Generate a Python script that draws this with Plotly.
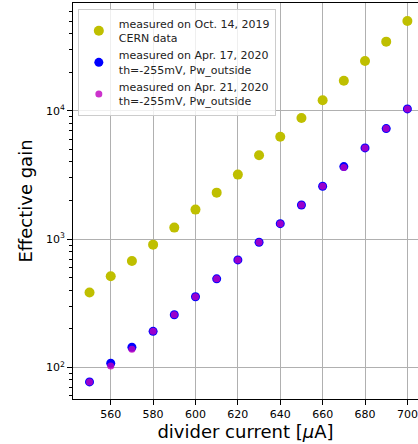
import plotly.graph_objects as go

# divider current [uA]
current = [550, 560, 570, 580, 590, 600, 610, 620, 630, 640, 650, 660, 670, 680, 690, 700]

gain_cern_2019 = [383, 514, 676, 906, 1230, 1700, 2305, 3186, 4510, 6300, 8820,
                  12110, 17220, 24550, 34730, 50350]
gain_apr17_2020 = [77, 107.6, 143.5, 191, 257, 355, 490, 689, 946, 1321, 1848,
                   2587, 3680, 5146, 7280, 10370]
gain_apr21_2020 = [77, 102.6, 138.4, 191, 257, 355, 490, 689, 946, 1321, 1848,
                   2587, 3620, 5146, 7280, 10370]

names = [
    "measured on Oct. 14, 2019<br>CERN data",
    "measured on Apr. 17, 2020<br>th=-255mV, Pw_outside",
    "measured on Apr. 21, 2020<br>th=-255mV, Pw_outside",
]

ytick_vals = [100, 1000, 10000]
ytick_text = ["10<sup>2</sup>", "10<sup>3</sup>", "10<sup>4</sup>"]
minor_vals = [m * 10 ** e for e in (1, 2, 3, 4) for m in range(2, 10)]

FONT = "DejaVu Sans"

fig = go.Figure()
fig.add_trace(go.Scatter(x=current, y=gain_cern_2019, mode="markers", name=names[0],
                         marker=dict(color="#bfbf00", size=10)))
fig.add_trace(go.Scatter(x=current, y=gain_apr17_2020, mode="markers", name=names[1],
                         marker=dict(color="#0000ff", size=9)))
fig.add_trace(go.Scatter(x=current, y=gain_apr21_2020, mode="markers", name=names[2],
                         marker=dict(color="rgba(191,0,191,0.8)", size=7)))

fig.update_layout(
    width=418, height=444,
    margin=dict(l=73, r=0, t=3, b=45),
    paper_bgcolor="white", plot_bgcolor="white",
    font=dict(family=FONT, color="black", size=11),
    showlegend=True,
    legend=dict(
        x=0.014, y=0.985, xanchor="left", yanchor="top",
        bgcolor="rgba(255,255,255,0.8)", bordercolor="#cccccc", borderwidth=1,
        font=dict(family=FONT, size=11, color="#222"),
        tracegroupgap=0, itemwidth=30,
    ),
    xaxis=dict(
        range=[542.2, 705.0],
        tickvals=[560, 580, 600, 620, 640, 660, 680, 700],
        showgrid=True, gridcolor="#b0b0b0", gridwidth=1,
        showline=True, linecolor="black", linewidth=1, mirror=True,
        ticks="outside", ticklen=5, tickcolor="black",
        tickfont=dict(size=11),
        zeroline=False,
        title=dict(text="divider current [<i>μ</i>A]", font=dict(size=18), standoff=4),
    ),
    yaxis=dict(
        type="log",
        range=[1.753, 4.842],
        tickvals=ytick_vals, ticktext=ytick_text,
        showgrid=True, gridcolor="#b0b0b0", gridwidth=1,
        showline=True, linecolor="black", linewidth=1,
        ticks="outside", ticklen=5, tickcolor="black",
        tickfont=dict(size=11),
        minor=dict(tickvals=minor_vals, ticks="outside", ticklen=3,
                   tickcolor="black", showgrid=False),
        zeroline=False,
        title=dict(text="Effective gain", font=dict(size=18), standoff=8),
    ),
)

fig.write_html(
    "out.html",
    config={"displayModeBar": False},
    post_script="document.body.style.margin='0';document.body.style.overflow='hidden';"
                "document.documentElement.style.overflow='hidden';",
)
